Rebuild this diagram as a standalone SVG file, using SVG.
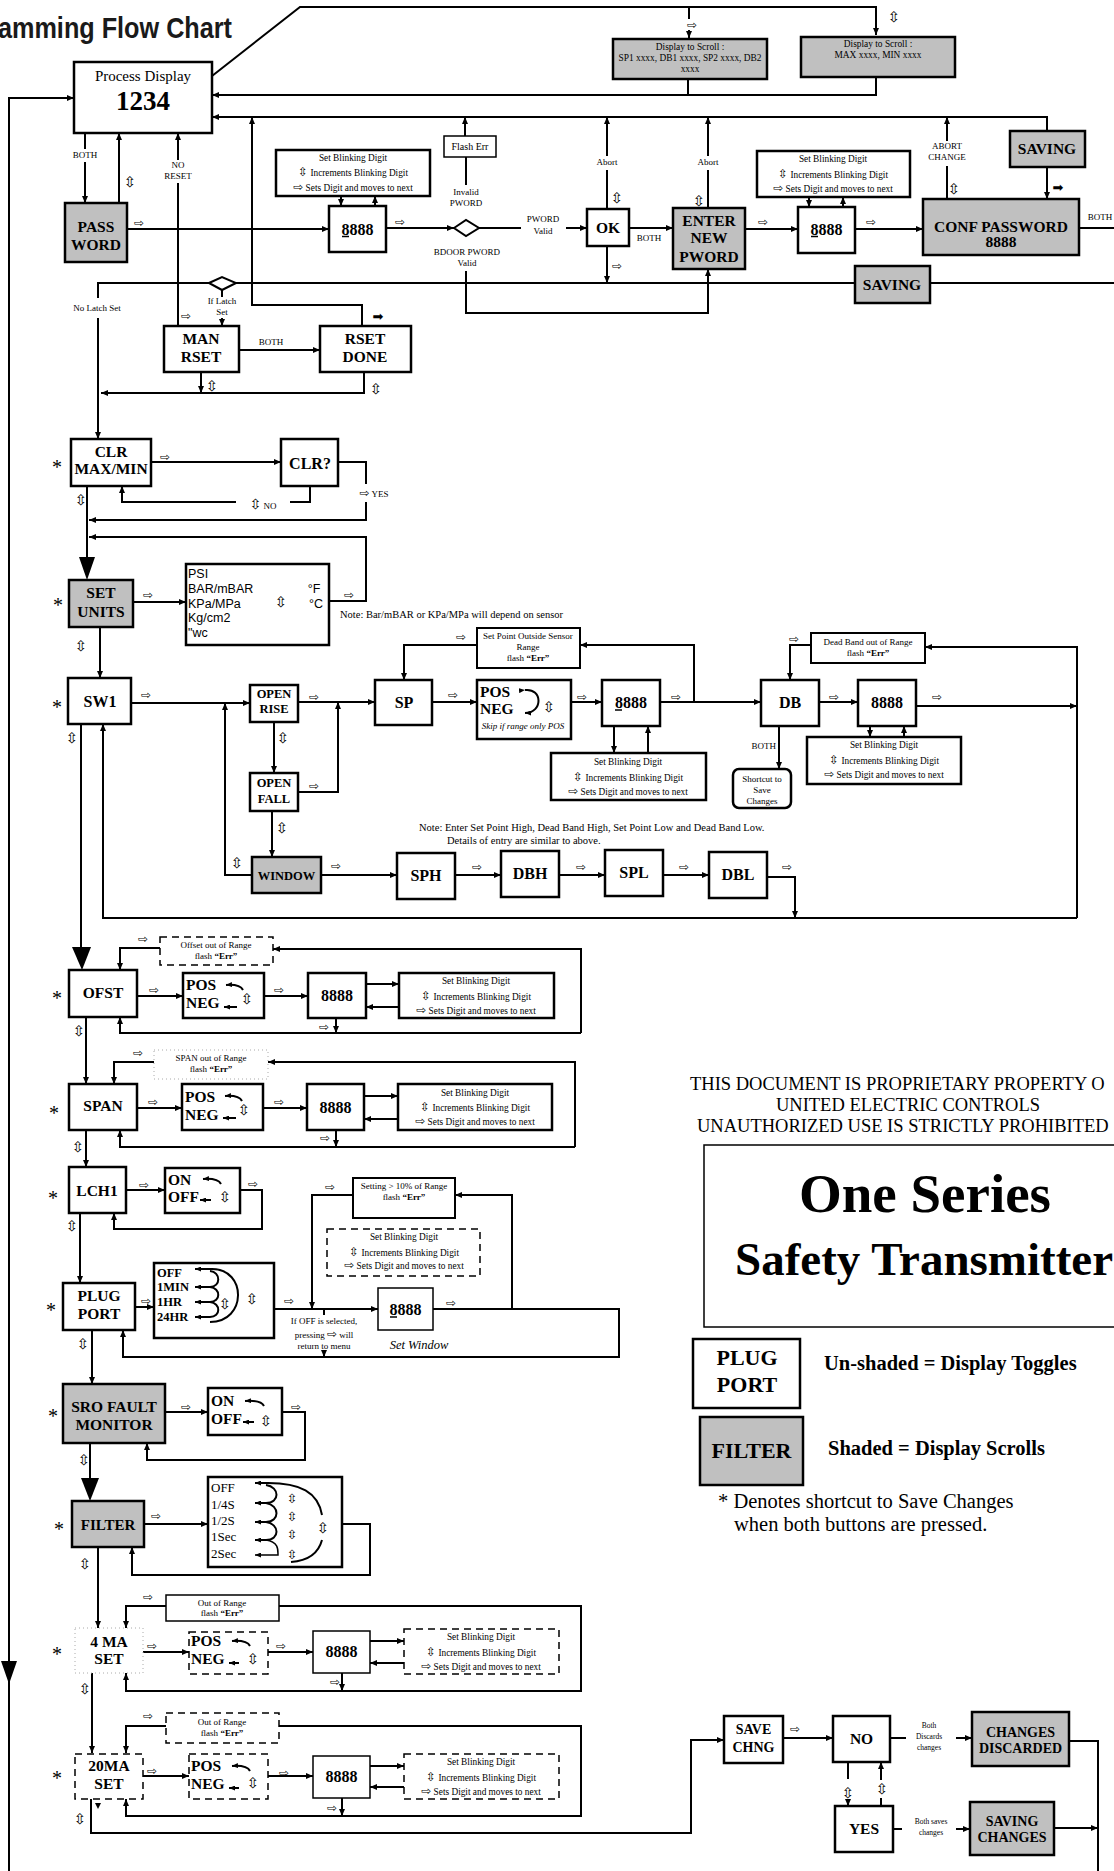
<svg xmlns="http://www.w3.org/2000/svg" width="1114" height="1871" viewBox="0 0 1114 1871">
<defs>
<marker id="a" viewBox="0 0 7 6" refX="7" refY="3" markerWidth="7" markerHeight="6" markerUnits="userSpaceOnUse" orient="auto"><path d="M0,0 L7,3 L0,6 z"/></marker>
<marker id="sa" viewBox="0 0 6 5" refX="6" refY="2.5" markerWidth="6" markerHeight="5" markerUnits="userSpaceOnUse" orient="auto"><path d="M0,0 L6,2.5 L0,5 z"/></marker>
</defs>
<style>
text{font-family:"Liberation Serif","Times New Roman",serif;fill:#000}
.bx{fill:#fff;stroke:#000;stroke-width:2.5}
.gr{fill:#c0c0c0}
.tb{fill:#fff;stroke:#000;stroke-width:1.5}
.ds{fill:#fff;stroke:#000;stroke-width:1.5;stroke-dasharray:7 5}
.dt{fill:#fff;stroke:#aaa;stroke-width:1;stroke-dasharray:1 3}
.c{fill:none;stroke:#000;stroke-width:2}
.A{marker-end:url(#a)}
.sc{fill:none;stroke:#000;stroke-width:2;marker-end:url(#sa)}
.L{font-weight:bold;font-size:15.5px;text-anchor:middle}
.D{font-weight:bold;font-size:16px;text-anchor:middle}
.M{font-weight:bold;font-size:12.5px;text-anchor:middle}
.PN{font-weight:bold;font-size:15.5px}
.s9{font-size:9px;text-anchor:middle}
.sb{font-size:9.3px;text-anchor:middle}
.sym{font-family:"DejaVu Sans",sans-serif;font-size:12px}
.r{font-family:"DejaVu Sans",sans-serif;font-size:12px;text-anchor:middle;transform:translateY(0.5px)}
.u{font-family:"DejaVu Sans",sans-serif;font-size:15px;text-anchor:middle;transform:translateY(1.5px)}
.st{font-size:20px;text-anchor:middle}
.nt{font-size:10.5px}
.ul{stroke:#000;stroke-width:1.5}
</style>
<rect width="1114" height="1871" fill="#fff"/>
<text x="-2" y="38" textLength="234" lengthAdjust="spacingAndGlyphs" style="font-family:'Liberation Sans',Arial,sans-serif;font-weight:bold;font-size:30px;fill:#1a1a1a">amming Flow Chart</text>

<g id="connectors">
<path class="c A" d="M212,76 L300,7 L876,7 L876,35"/>
<path class="c" d="M689,7 V19"/>
<path class="c A" style="stroke-dasharray:3 2" d="M689,30 V38"/>
<path class="c A" d="M876,77 V95 H212"/>
<path class="c" d="M688,79 V95"/>
<path class="c A" d="M1047,131 V117 H212"/>
<path class="c A" d="M362,326 V305 H252 V117"/>
<path class="c A" d="M465,136 V117"/>
<path class="c" d="M607,209 V170"/><path class="c A" d="M607,156 V117"/>
<path class="c" d="M708,208 V170"/><path class="c A" d="M708,156 V117"/>
<path class="c" d="M947,199 V166"/><path class="c A" d="M947,141 V117"/>
<path class="c A" d="M1047,167 V199"/>
<path class="c" d="M1079,228 H1114"/>
<path class="c A" d="M9,1871 V98 H74"/>
<polygon points="1,1661 17,1661 9,1684"/>
<path class="c" d="M85,133 V149"/><path class="c A" d="M85,162 V203"/>
<path class="c A" d="M119,203 V133"/>
<path class="c" d="M178,326 V183"/><path class="c A" d="M178,160 V133"/>
<path class="c A" d="M127,229 H329"/>
<path class="c A" d="M341,196 V206"/><path class="c A" d="M375,206 V196"/>
<path class="c A" d="M386,228 H454"/>
<path class="c" d="M466,157 V185"/>
<path class="c" d="M479,228 H521"/><path class="c A" d="M566,228 H587"/>
<path class="c A" d="M466,271 V313 H708 V269"/>
<path class="c A" d="M629,228 H673"/>
<path class="c A" d="M745,229 H798"/>
<path class="c A" d="M809,197 V207"/><path class="c A" d="M843,207 V197"/>
<path class="c A" d="M855,229 H923"/>
<path class="c A" d="M607,246 V283"/>
<path class="c" d="M98,298 V283 H209"/><path class="c" d="M236,283 H855"/><path class="c" d="M930,283 H1114"/>
<path class="c A" d="M98,318 V439"/>
<path class="c" d="M222,290 V297"/><path class="c A" d="M222,318 V326"/>
<path class="c A" d="M239,350 H320"/>
<path class="c A" d="M201,372 V393"/>
<path class="c A" d="M364,372 V393 H101"/>
<path class="c A" d="M151,462 H281"/>
<path class="c" d="M310,486 V502 H290"/><path class="c A" d="M236,502 H122 V486"/>
<path class="c" d="M338,462 H366 V484"/><path class="c A" d="M366,502 V520 H89"/>
<path class="c" d="M87,486 V558"/>
<polygon points="79,557 95,557 87,580"/>
<path class="c A" d="M329,601 H366 V537 H89"/>
<path class="c A" d="M133,602 H186"/>
<path class="c A" d="M100,627 V678"/>
<path class="c A" d="M131,703 H250"/>
<path class="c A" d="M298,702 H375"/>
<path class="c A" d="M432,702 H477"/>
<path class="c A" d="M477,645 H404 V680"/>
<path class="c A" d="M571,702 H602"/>
<path class="c A" d="M660,702 H761"/>
<path class="c A" d="M694,702 V645 H580"/>
<path class="c A" d="M614,726 V753"/><path class="c A" d="M648,753 V726"/>
<path class="c A" d="M811,645 H790 V680"/>
<path class="c A" d="M819,702 H858"/>
<path class="c A" d="M916,706 H1077"/>
<path class="c A" d="M1077,918 V647 H925"/>
<path class="c A" d="M870,726 V737"/><path class="c A" d="M904,737 V726"/>
<path class="c A" d="M779,726 V769"/>
<path class="c A" d="M274,722 V773"/>
<path class="c A" d="M298,792 H338 V702"/>
<path class="c A" d="M272,811 V857"/>
<path class="c A" d="M252,875 H225 V703"/>
<path class="c A" d="M321,875 H397"/>
<path class="c A" d="M455,875 H501"/><path class="c A" d="M559,875 H605"/><path class="c A" d="M663,875 H709"/>
<path class="c A" d="M767,877 H795 V918"/>
<path class="c A" d="M1077,918 H103 V724"/>
<path class="c" d="M81,724 V948"/>
<polygon points="72,947 91,947 82,970"/>
<path class="c A" d="M160,948 H120 V970"/>
<path class="c A" d="M581,1033 V949 H273"/>
<path class="c A" d="M581,1033 H120 V1017"/>
<path class="c A" d="M137,996 H183"/><path class="c A" d="M264,996 H308"/>
<path class="c A" d="M366,984 H399"/><path class="c A" d="M399,1007 H366"/>
<path class="c A" d="M336,1018 V1033"/>
<path class="c A" d="M86,1017 V1084"/>
<path class="c A" d="M154,1062 H114 V1084"/>
<path class="c A" d="M575,1147 V1062 H268"/>
<path class="c A" d="M575,1147 H120 V1130"/>
<path class="c A" d="M137,1108 H182"/><path class="c A" d="M263,1108 H307"/>
<path class="c A" d="M364,1096 H398"/><path class="c A" d="M398,1119 H364"/>
<path class="c A" d="M336,1130 V1147"/>
<path class="c A" d="M86,1130 V1167"/>
<path class="c A" d="M126,1190 H165"/>
<path class="c A" d="M240,1190 H262 V1229 H114 V1213"/>
<path class="c A" d="M80,1213 V1283"/>
<path class="c A" d="M135,1307 H154"/>
<path class="c A" d="M274,1309 H378"/>
<path class="c A" d="M353,1195 H312 V1309"/>
<path class="c A" d="M433,1309 H619 V1357 H123 V1330"/>
<path class="c A" d="M512,1309 V1195 H455"/>
<path class="c" d="M324,1309 V1315"/><path class="c A" d="M324,1350 V1357"/>
<path class="c A" d="M92,1330 V1384"/>
<path class="c A" d="M165,1412 H208"/>
<path class="c A" d="M282,1412 H305 V1460 H147 V1443"/>
<path class="c" d="M90,1443 V1480"/>
<polygon points="81,1478 99,1478 90,1501"/>
<path class="c A" d="M144,1524 H208"/>
<path class="c A" d="M342,1524 H370 V1575 H132 V1547"/>
<path class="c A" d="M98,1547 V1628"/>
<path class="c A" d="M166,1606 H126 V1628"/>
<path class="c A" d="M279,1606 H581 V1691 H126 V1673"/>
<path class="c A" d="M143,1652 H189"/><path class="c A" d="M268,1652 H313"/>
<path class="c A" d="M370,1641 H404"/><path class="c A" d="M404,1663 H370"/>
<path class="c A" d="M342,1673 V1691"/>
<path class="c A" d="M92,1673 V1753"/>
<path class="c A" d="M166,1726 H126 V1753"/>
<path class="c A" d="M279,1726 H581 V1816 H126 V1799"/>
<path class="c A" d="M143,1776 H189"/><path class="c A" d="M268,1776 H313"/>
<path class="c A" d="M370,1766 H404"/><path class="c A" d="M404,1787 H370"/>
<path class="c A" d="M342,1798 V1816"/>
<path class="c A" d="M91,1799 V1833 H691 V1740 H724"/>
<polygon points="95,1803 101,1803 98,1809"/>
<path class="c A" d="M783,1738 H833"/>
<path class="c" d="M890,1738 H906"/><path class="c A" d="M956,1738 H972"/>
<path class="c" d="M848,1762 V1779"/><path class="c A" d="M848,1800 V1806"/>
<path class="c" d="M881,1806 V1798"/><path class="c A" d="M881,1780 V1762"/>
<path class="c" d="M893,1829 H902"/><path class="c A" d="M956,1829 H970"/>
<path class="c" d="M1069,1741 H1098 V1871"/>
<path class="c A" d="M1054,1828 H1098"/>

<text class="r" x="692" y="28">⇨</text>
<text class="r" x="139" y="226">⇨</text>
<text class="r" x="400" y="225">⇨</text>
<text class="r" x="763" y="225">⇨</text>
<text class="r" x="871" y="225">⇨</text>
<text class="r" x="617" y="269">⇨</text>
<text class="r" x="186" y="319">⇨</text>
<text class="r" x="165" y="460">⇨</text>
<text class="r" x="349" y="598">⇨</text>
<text class="r" x="148" y="598">⇨</text>
<text class="r" x="146" y="698">⇨</text>
<text class="r" x="314" y="700">⇨</text>
<text class="r" x="453" y="698">⇨</text>
<text class="r" x="461" y="640">⇨</text>
<text class="r" x="582" y="700">⇨</text>
<text class="r" x="676" y="700">⇨</text>
<text class="r" x="794" y="642">⇨</text>
<text class="r" x="834" y="700">⇨</text>
<text class="r" x="937" y="700">⇨</text>
<text class="r" x="314" y="789">⇨</text>
<text class="r" x="336" y="869">⇨</text>
<text class="r" x="477" y="870">⇨</text>
<text class="r" x="581" y="870">⇨</text>
<text class="r" x="684" y="870">⇨</text>
<text class="r" x="787" y="870">⇨</text>
<text class="r" x="143" y="942">⇨</text>
<text class="r" x="154" y="993">⇨</text>
<text class="r" x="279" y="993">⇨</text>
<text class="r" x="324" y="1030">⇨</text>
<text class="r" x="138" y="1056">⇨</text>
<text class="r" x="153" y="1105">⇨</text>
<text class="r" x="279" y="1105">⇨</text>
<text class="r" x="325" y="1141">⇨</text>
<text class="r" x="144" y="1188">⇨</text>
<text class="r" x="253" y="1187">⇨</text>
<text class="r" x="146" y="1304">⇨</text>
<text class="r" x="289" y="1304">⇨</text>
<text class="r" x="330" y="1190">⇨</text>
<text class="r" x="451" y="1306">⇨</text>
<text class="r" x="186" y="1410">⇨</text>
<text class="r" x="296" y="1410">⇨</text>
<text class="r" x="156" y="1519">⇨</text>
<text class="r" x="148" y="1600">⇨</text>
<text class="r" x="152" y="1649">⇨</text>
<text class="r" x="281" y="1649">⇨</text>
<text class="r" x="335" y="1685">⇨</text>
<text class="r" x="148" y="1719">⇨</text>
<text class="r" x="152" y="1774">⇨</text>
<text class="r" x="284" y="1776">⇨</text>
<text class="r" x="332" y="1811">⇨</text>
<text class="r" x="795" y="1732">⇨</text>
<text class="r" style="font-size:13px" x="1058" y="191">➡</text>
<text class="r" style="font-size:13px" x="378" y="320">➡</text>

<text class="u" x="894" y="20">⇳</text>
<text class="u" x="130" y="185">⇳</text>
<text class="u" x="617" y="201">⇳</text>
<text class="u" x="699" y="204">⇳</text>
<text class="u" x="954" y="192">⇳</text>
<text class="u" x="212" y="389">⇳</text>
<text class="u" x="376" y="392">⇳</text>
<text class="u" x="81" y="503">⇳</text>
<text class="u" x="81" y="649">⇳</text>
<text class="u" x="72" y="741">⇳</text>
<text class="u" x="283" y="741">⇳</text>
<text class="u" x="282" y="831">⇳</text>
<text class="u" x="237" y="866">⇳</text>
<text class="u" x="79" y="1034">⇳</text>
<text class="u" x="78" y="1150">⇳</text>
<text class="u" x="72" y="1229">⇳</text>
<text class="u" x="83" y="1347">⇳</text>
<text class="u" x="84" y="1463">⇳</text>
<text class="u" x="85" y="1567">⇳</text>
<text class="u" x="85" y="1692">⇳</text>
<text class="u" x="80" y="1822">⇳</text>
<text class="u" x="848" y="1796">⇳</text>
<text class="u" x="882" y="1792">⇳</text>

<text class="s9" x="85" y="158">BOTH</text>
<text class="s9" x="178" y="168">NO</text>
<text class="s9" x="178" y="179">RESET</text>
<text class="s9" x="466" y="195">Invalid</text>
<text class="s9" x="466" y="206">PWORD</text>
<text class="s9" x="467" y="255">BDOOR PWORD</text>
<text class="s9" x="467" y="266">Valid</text>
<text class="s9" x="543" y="222">PWORD</text>
<text class="s9" x="543" y="234">Valid</text>
<text class="s9" x="607" y="165">Abort</text>
<text class="s9" x="708" y="165">Abort</text>
<text class="s9" x="947" y="149">ABORT</text>
<text class="s9" x="947" y="160">CHANGE</text>
<text class="s9" x="649" y="241">BOTH</text>
<text class="s9" x="1100" y="220">BOTH</text>
<text class="s9" x="97" y="311">No Latch Set</text>
<text class="s9" x="222" y="304">If Latch</text>
<text class="s9" x="222" y="315">Set</text>
<text class="s9" x="271" y="345">BOTH</text>
<text class="s9" x="263" y="509"><tspan class="sym" style="font-size:14px">⇳</tspan> NO</text>
<text class="s9" x="374" y="497"><tspan class="sym">⇨</tspan> YES</text>
<text class="nt" x="340" y="618">Note:  Bar/mBAR or KPa/MPa will depend on sensor</text>
<text class="s9" x="776" y="749" style="text-anchor:end">BOTH</text>
<text class="nt" x="419" y="831">Note:  Enter Set Point High, Dead Band High, Set Point Low and Dead Band Low.</text>
<text class="nt" x="447" y="844">Details of entry are similar to above.</text>
<text class="s9" x="324" y="1324">If OFF is selected,</text>
<text class="s9" x="324" y="1338">pressing <tspan class="sym">⇨</tspan>  will</text>
<text class="s9" x="324" y="1349">return to menu</text>
<text x="419" y="1349" style="font-style:italic;font-size:12.5px;text-anchor:middle">Set Window</text>
<text class="s9" style="font-size:7.5px" x="929" y="1728">Both</text>
<text class="s9" style="font-size:7.5px" x="929" y="1739">Discards</text>
<text class="s9" style="font-size:7.5px" x="929" y="1750">changes</text>
<text class="s9" style="font-size:7.5px" x="931" y="1824">Both  saves</text>
<text class="s9" style="font-size:7.5px" x="931" y="1835">changes</text>

<text class="st" x="57" y="474">*</text>
<text class="st" x="58" y="612">*</text>
<text class="st" x="57" y="714">*</text>
<text class="st" x="57" y="1005">*</text>
<text class="st" x="54" y="1120">*</text>
<text class="st" x="53" y="1205">*</text>
<text class="st" x="51" y="1317">*</text>
<text class="st" x="53" y="1423">*</text>
<text class="st" x="59" y="1536">*</text>
<text class="st" x="57" y="1661">*</text>
<text class="st" x="57" y="1785">*</text>
</g>

<g id="n-process"><rect class="bx" x="74" y="62" width="138" height="71"/><text x="143" y="81" style="font-size:15px;text-anchor:middle">Process Display</text><text x="143" y="110" style="font-size:27px;font-weight:bold;text-anchor:middle">1234</text></g>
<g id="n-scroll1"><rect class="bx gr" x="613" y="39" width="154" height="40"/><text class="s9" style="font-size:9.4px" x="690" y="50">Display to Scroll :</text><text class="s9" style="font-size:9.4px" x="690" y="61">SP1 xxxx, DB1 xxxx, SP2 xxxx, DB2</text><text class="s9" style="font-size:9.4px" x="690" y="72">xxxx</text></g>
<g id="n-scroll2"><rect class="bx gr" x="801" y="37" width="154" height="40"/><text class="s9" style="font-size:9.4px" x="878" y="47">Display to Scroll :</text><text class="s9" style="font-size:9.4px" x="878" y="58">MAX xxxx, MIN xxxx</text></g>
<g id="n-password"><rect class="bx gr" x="65" y="203" width="62" height="59"/><text class="L" x="96" y="232">PASS</text><text class="L" x="96" y="250">WORD</text></g>
<g id="n-sbd1"><rect class="bx" x="276" y="150" width="154" height="46"/><text class="sb" x="353" y="161">Set Blinking Digit</text><text class="sb" x="353" y="176"><tspan class="sym">⇳</tspan> Increments Blinking Digit</text><text class="sb" x="353" y="191"><tspan class="sym">⇨</tspan> Sets Digit and moves to next</text></g>
<g id="n-8888a"><rect class="bx" x="329" y="206" width="57" height="46"/><text class="D" x="357.5" y="235">8888</text><path class="ul" d="M342,236.5 H349"/></g>
<g id="n-flasherr"><rect class="tb" x="444" y="136" width="52" height="21"/><text x="470" y="150" style="font-size:10px;text-anchor:middle">Flash Err</text></g>
<g id="n-decision1"><polygon points="454,228 466,220 479,228 466,236" fill="#fff" stroke="#000" stroke-width="2"/></g>
<g id="n-ok"><rect class="bx" x="587" y="209" width="42" height="37"/><text class="L" x="608" y="233">OK</text></g>
<g id="n-enter"><rect class="bx gr" x="673" y="208" width="72" height="61"/><text class="L" x="709" y="226">ENTER</text><text class="L" x="709" y="243">NEW</text><text class="L" x="709" y="262">PWORD</text></g>
<g id="n-sbd2"><rect class="bx" x="757" y="151" width="153" height="46"/><text class="sb" x="833" y="162">Set Blinking Digit</text><text class="sb" x="833" y="178"><tspan class="sym">⇳</tspan> Increments Blinking Digit</text><text class="sb" x="833" y="192"><tspan class="sym">⇨</tspan> Sets Digit and moves to next</text></g>
<g id="n-8888b"><rect class="bx" x="798" y="207" width="57" height="46"/><text class="D" x="826.5" y="235">8888</text><path class="ul" d="M811,236.5 H818"/></g>
<g id="n-conf"><rect class="bx gr" x="923" y="199" width="156" height="56"/><text class="L" x="1001" y="232">CONF PASSWORD</text><text class="L" x="1001" y="247">8888</text></g>
<g id="n-saving1"><rect class="bx gr" x="1010" y="131" width="75" height="36"/><text class="L" x="1047" y="154">SAVING</text></g>
<g id="n-saving2"><rect class="bx gr" x="855" y="266" width="75" height="37"/><text class="L" x="892" y="290">SAVING</text></g>
<g id="n-decision2"><polygon points="209,283 222,277 236,283 222,290" fill="#fff" stroke="#000" stroke-width="2"/></g>
<g id="n-manrset"><rect class="bx" x="164" y="326" width="75" height="46"/><text class="L" x="201" y="344">MAN</text><text class="L" x="201" y="362">RSET</text></g>
<g id="n-rsetdone"><rect class="bx" x="320" y="326" width="91" height="46"/><text class="L" x="365" y="344">RSET</text><text class="L" x="365" y="362">DONE</text></g>
<g id="n-clr"><rect class="bx" x="71" y="439" width="80" height="47"/><text class="L" x="111" y="457">CLR</text><text class="L" x="111" y="474">MAX/MIN</text></g>
<g id="n-clrq"><rect class="bx" x="281" y="439" width="57" height="47"/><text class="L" style="font-size:16px" x="310" y="469">CLR?</text></g>
<g id="n-setunits"><rect class="bx gr" x="69" y="580" width="64" height="47"/><text class="L" x="101" y="598">SET</text><text class="L" x="101" y="617">UNITS</text></g>
<g id="n-units"><rect class="bx" x="186" y="564" width="143" height="81"/>
<text x="188" y="578" style="font-family:'Liberation Sans',Arial,sans-serif;font-size:12.5px">PSI</text>
<text x="188" y="593" style="font-family:'Liberation Sans',Arial,sans-serif;font-size:12.5px">BAR/mBAR</text>
<text x="188" y="608" style="font-family:'Liberation Sans',Arial,sans-serif;font-size:12.5px">KPa/MPa</text>
<text x="188" y="622" style="font-family:'Liberation Sans',Arial,sans-serif;font-size:12.5px">Kg/cm2</text>
<text x="188" y="637" style="font-family:'Liberation Sans',Arial,sans-serif;font-size:12.5px">"wc</text>
<text x="314" y="593" style="font-family:'Liberation Sans',Arial,sans-serif;font-size:12.5px;text-anchor:middle">°F</text>
<text x="316" y="608" style="font-family:'Liberation Sans',Arial,sans-serif;font-size:12.5px;text-anchor:middle">°C</text>
<text class="u" x="281" y="605">⇳</text></g>
<g id="n-sw1"><rect class="bx" x="68" y="678" width="63" height="46"/><text class="L" style="font-size:16px" x="100" y="707">SW1</text></g>
<g id="n-openrise"><rect class="bx" x="250" y="685" width="48" height="37"/><text class="M" x="274" y="698">OPEN</text><text class="M" x="274" y="713">RISE</text></g>
<g id="n-sposr"><rect class="bx" style="stroke-width:2" x="477" y="628" width="103" height="40"/><text class="s9" x="528" y="639">Set Point Outside Sensor</text><text class="s9" x="528" y="650">Range</text><text class="s9" x="528" y="661">flash <tspan font-weight="bold">“Err”</tspan></text></g>
<g id="n-sp"><rect class="bx" x="375" y="680" width="57" height="45"/><text class="D" x="404" y="708">SP</text></g>
<g id="n-posneg1"><rect class="bx" x="477" y="680" width="94" height="59"/><text class="PN" x="480" y="697">POS</text><text class="PN" x="480" y="714">NEG</text><path class="sc" d="M525,690 C543,688 543,713 525,713" marker-start="url(#sa)" style="marker-start:url(#sa)"/><text class="u" x="549" y="710">⇳</text><text x="523" y="729" style="font-style:italic;font-size:9px;text-anchor:middle">Skip if range only POS</text></g>
<g id="n-8888c"><rect class="bx" x="602" y="680" width="58" height="46"/><text class="D" x="631" y="708">8888</text><path class="ul" d="M615,710 H622"/></g>
<g id="n-sbd3"><rect class="bx" x="551" y="753" width="155" height="47"/><text class="sb" x="628" y="765">Set Blinking Digit</text><text class="sb" x="628" y="781"><tspan class="sym">⇳</tspan> Increments Blinking Digit</text><text class="sb" x="628" y="795"><tspan class="sym">⇨</tspan> Sets Digit and moves to next</text></g>
<g id="n-db"><rect class="bx" x="761" y="680" width="58" height="46"/><text class="D" x="790" y="708">DB</text></g>
<g id="n-deadband"><rect class="bx" style="stroke-width:2" x="811" y="633" width="114" height="30"/><text class="s9" x="868" y="645">Dead Band out of Range</text><text class="s9" x="868" y="656">flash <tspan font-weight="bold">“Err”</tspan></text></g>
<g id="n-8888d"><rect class="bx" x="858" y="680" width="58" height="46"/><text class="D" x="887" y="708">8888</text></g>
<g id="n-sbd4"><rect class="bx" x="807" y="737" width="154" height="47"/><text class="sb" x="884" y="748">Set Blinking Digit</text><text class="sb" x="884" y="764"><tspan class="sym">⇳</tspan> Increments Blinking Digit</text><text class="sb" x="884" y="778"><tspan class="sym">⇨</tspan> Sets Digit and moves to next</text></g>
<g id="n-shortcut"><rect class="bx" x="733" y="769" width="58" height="39" rx="6"/><text class="s9" x="762" y="782">Shortcut to</text><text class="s9" x="762" y="793">Save</text><text class="s9" x="762" y="804">Changes</text></g>
<g id="n-openfall"><rect class="bx" x="250" y="773" width="48" height="38"/><text class="M" x="274" y="787">OPEN</text><text class="M" x="274" y="803">FALL</text></g>
<g id="n-window"><rect class="bx gr" x="252" y="857" width="69" height="36"/><text class="M" x="286.5" y="880">WINDOW</text></g>
<g id="n-sph"><rect class="bx" x="397" y="853" width="58" height="46"/><text class="D" x="426" y="881">SPH</text></g>
<g id="n-dbh"><rect class="bx" x="501" y="851" width="58" height="46"/><text class="D" x="530" y="879">DBH</text></g>
<g id="n-spl"><rect class="bx" x="605" y="850" width="58" height="46"/><text class="D" x="634" y="878">SPL</text></g>
<g id="n-dbl"><rect class="bx" x="709" y="852" width="58" height="46"/><text class="D" x="738" y="880">DBL</text></g>
<g id="n-ofstrange"><rect class="ds" x="160" y="937" width="113" height="28"/><text class="s9" x="216" y="948">Offset out of Range</text><text class="s9" x="216" y="959">flash <tspan font-weight="bold">“Err”</tspan></text></g>
<g id="n-ofst"><rect class="bx" x="69" y="970" width="68" height="47"/><text class="L" x="103" y="998">OFST</text></g>
<g id="n-posneg2"><rect class="bx" x="183" y="973" width="81" height="45"/><text class="PN" x="186" y="990">POS</text><text class="PN" x="186" y="1008">NEG</text><path class="sc" d="M243,990 Q240,984 226,985"/><path class="sc" d="M237,1007 H224"/><text class="u" x="247" y="1002">⇳</text></g>
<g id="n-8888e"><rect class="bx" x="308" y="973" width="58" height="45"/><text class="D" x="337" y="1001">8888</text></g>
<g id="n-sbd5"><rect class="bx" x="399" y="973" width="155" height="45"/><text class="sb" x="476" y="984">Set Blinking Digit</text><text class="sb" x="476" y="1000"><tspan class="sym">⇳</tspan> Increments Blinking Digit</text><text class="sb" x="476" y="1014"><tspan class="sym">⇨</tspan> Sets Digit and moves to next</text></g>
<g id="n-spanrange"><rect class="dt" x="154" y="1050" width="114" height="29"/><text class="s9" x="211" y="1061">SPAN out of Range</text><text class="s9" x="211" y="1072">flash <tspan font-weight="bold">“Err”</tspan></text></g>
<g id="n-span"><rect class="bx" x="69" y="1084" width="68" height="46"/><text class="L" x="103" y="1111">SPAN</text></g>
<g id="n-posneg3"><rect class="bx" x="182" y="1084" width="81" height="46"/><text class="PN" x="185" y="1102">POS</text><text class="PN" x="185" y="1120">NEG</text><path class="sc" d="M242,1101 Q239,1095 225,1096"/><path class="sc" d="M236,1118 H223"/><text class="u" x="244" y="1113">⇳</text></g>
<g id="n-8888f"><rect class="bx" x="307" y="1084" width="57" height="46"/><text class="D" x="335.5" y="1113">8888</text></g>
<g id="n-sbd6"><rect class="bx" x="398" y="1084" width="154" height="46"/><text class="sb" x="475" y="1096">Set Blinking Digit</text><text class="sb" x="475" y="1111"><tspan class="sym">⇳</tspan> Increments Blinking Digit</text><text class="sb" x="475" y="1125"><tspan class="sym">⇨</tspan> Sets Digit and moves to next</text></g>
<g id="n-lch1"><rect class="bx" x="69" y="1167" width="57" height="46"/><text class="L" x="97" y="1196">LCH1</text></g>
<g id="n-onoff1"><rect class="bx" x="165" y="1168" width="75" height="45"/><text class="PN" x="168" y="1185">ON</text><text class="PN" x="168" y="1202">OFF</text><path class="sc" d="M221,1184 Q218,1178 203,1179"/><path class="sc" d="M211,1200 H200"/><text class="u" x="225" y="1200">⇳</text></g>
<g id="n-plug"><rect class="bx" x="63" y="1283" width="72" height="47"/><text class="L" x="99" y="1301">PLUG</text><text class="L" x="99" y="1319">PORT</text></g>
<g id="n-plugopts"><rect class="bx" x="154" y="1263" width="120" height="75"/><text x="157" y="1277" style="font-weight:bold;font-size:12.5px">OFF</text><text x="157" y="1291" style="font-weight:bold;font-size:12.5px">1MIN</text><text x="157" y="1306" style="font-weight:bold;font-size:12.5px">1HR</text><text x="157" y="1321" style="font-weight:bold;font-size:12.5px">24HR</text>
<path class="sc" d="M210,1322 C247,1322 247,1269 212,1269 H195"/>
<path class="sc" d="M210,1271 C221,1272 221,1287 210,1287 H195"/>
<path class="sc" d="M210,1287 C221,1288 221,1302 210,1302 H195"/>
<path class="sc" d="M210,1302 C221,1303 221,1317 210,1317 H195"/>
<text class="u" x="225" y="1307">⇳</text><text class="u" x="252" y="1302">⇳</text></g>
<g id="n-setting"><rect class="bx" style="stroke-width:2" x="353" y="1178" width="102" height="40"/><text class="s9" x="404" y="1189">Setting &gt; 10% of  Range</text><text class="s9" x="404" y="1200">flash <tspan font-weight="bold">“Err”</tspan></text></g>
<g id="n-sbd7"><rect class="ds" x="327" y="1229" width="153" height="47"/><text class="sb" x="404" y="1240">Set Blinking Digit</text><text class="sb" x="404" y="1256"><tspan class="sym">⇳</tspan> Increments Blinking Digit</text><text class="sb" x="404" y="1269"><tspan class="sym">⇨</tspan> Sets Digit and moves to next</text></g>
<g id="n-8888g"><rect class="tb" x="378" y="1288" width="55" height="42"/><text class="D" x="405.5" y="1315">8888</text><path class="ul" d="M390,1317 H397"/></g>
<g id="n-sro"><rect class="bx gr" x="63" y="1384" width="102" height="59"/><text class="L" x="114" y="1412">SRO FAULT</text><text class="L" x="114" y="1430">MONITOR</text></g>
<g id="n-onoff2"><rect class="bx" x="208" y="1388" width="74" height="47"/><text class="PN" x="211" y="1406">ON</text><text class="PN" x="211" y="1424">OFF</text><path class="sc" d="M264,1406 Q261,1400 245,1401"/><path class="sc" d="M254,1422 H243"/><text class="u" x="266" y="1424">⇳</text></g>
<g id="n-filter"><rect class="bx gr" x="72" y="1501" width="72" height="46"/><text class="L" style="font-size:15px" x="108" y="1530">FILTER</text></g>
<g id="n-filteropts"><rect class="bx" x="208" y="1477" width="134" height="90"/><text x="211" y="1492" style="font-size:13px">OFF</text><text x="211" y="1509" style="font-size:13px">1/4S</text><text x="211" y="1525" style="font-size:13px">1/2S</text><text x="211" y="1541" style="font-size:13px">1Sec</text><text x="211" y="1558" style="font-size:13px">2Sec</text>
<path class="sc" d="M322,1515 C318,1492 300,1483 268,1483 H255"/>
<path class="c" d="M322,1540 C318,1555 305,1561 291,1562"/>
<path class="sc" d="M266,1485 C280,1487 280,1503 266,1503 H255"/>
<path class="sc" d="M266,1503 C280,1505 280,1522 266,1522 H255"/>
<path class="sc" d="M266,1522 C280,1524 280,1540 266,1540 H255"/>
<path class="sc" style="stroke-width:1.5" d="M266,1540 C279,1542 278,1550 278,1555 H255"/>
<text class="u" style="font-size:13px" x="292" y="1501">⇳</text><text class="u" style="font-size:13px" x="292" y="1519">⇳</text><text class="u" style="font-size:13px" x="292" y="1537">⇳</text><text class="u" style="font-size:13px" x="292" y="1557">⇳</text><text class="u" x="323" y="1531">⇳</text></g>
<g id="n-outrange1"><rect class="tb" x="166" y="1595" width="113" height="26"/><text class="s9" x="222" y="1606">Out of Range</text><text class="s9" x="222" y="1616">flash <tspan font-weight="bold">“Err”</tspan></text></g>
<g id="n-4ma"><rect class="dt" x="75" y="1628" width="68" height="45"/><text class="L" x="109" y="1647">4 MA</text><text class="L" x="109" y="1664">SET</text></g>
<g id="n-posneg4"><rect class="ds" x="189" y="1632" width="79" height="42"/><text class="PN" x="191" y="1646">POS</text><text class="PN" x="191" y="1664">NEG</text><path class="sc" d="M250,1646 Q247,1640 232,1641"/><path class="sc" d="M239,1663 H229"/><text class="u" x="253" y="1662">⇳</text></g>
<g id="n-8888h"><rect class="tb" x="313" y="1631" width="57" height="42"/><text class="D" x="341.5" y="1657">8888</text></g>
<g id="n-sbd8"><rect class="ds" x="404" y="1629" width="155" height="45"/><text class="sb" x="481" y="1640">Set Blinking Digit</text><text class="sb" x="481" y="1656"><tspan class="sym">⇳</tspan> Increments Blinking Digit</text><text class="sb" x="481" y="1670"><tspan class="sym">⇨</tspan> Sets Digit and moves to next</text></g>
<g id="n-outrange2"><rect class="ds" x="166" y="1713" width="113" height="30"/><text class="s9" x="222" y="1725">Out of Range</text><text class="s9" x="222" y="1736">flash <tspan font-weight="bold">“Err”</tspan></text></g>
<g id="n-20ma"><rect class="ds" x="75" y="1754" width="68" height="45"/><text class="L" x="109" y="1771">20MA</text><text class="L" x="109" y="1789">SET</text></g>
<g id="n-posneg5"><rect class="ds" x="189" y="1754" width="79" height="45"/><text class="PN" x="191" y="1771">POS</text><text class="PN" x="191" y="1789">NEG</text><path class="sc" d="M250,1771 Q247,1765 232,1766"/><path class="sc" d="M239,1788 H229"/><text class="u" x="253" y="1786">⇳</text></g>
<g id="n-8888i"><rect class="tb" x="313" y="1756" width="57" height="42"/><text class="D" x="341.5" y="1782">8888</text></g>
<g id="n-sbd9"><rect class="ds" x="404" y="1754" width="155" height="45"/><text class="sb" x="481" y="1765">Set Blinking Digit</text><text class="sb" x="481" y="1781"><tspan class="sym">⇳</tspan> Increments Blinking Digit</text><text class="sb" x="481" y="1795"><tspan class="sym">⇨</tspan> Sets Digit and moves to next</text></g>
<g id="n-savechng"><rect class="bx" x="724" y="1716" width="59" height="47"/><text class="L" style="font-size:14px" x="753.5" y="1734">SAVE</text><text class="L" style="font-size:14px" x="753.5" y="1752">CHNG</text></g>
<g id="n-no"><rect class="bx" x="833" y="1716" width="57" height="46"/><text class="L" x="861.5" y="1744">NO</text></g>
<g id="n-yes"><rect class="bx" x="835" y="1806" width="58" height="46"/><text class="L" x="864" y="1834">YES</text></g>
<g id="n-discarded"><rect class="bx gr" x="972" y="1712" width="97" height="54"/><text class="L" style="font-size:14px" x="1020.5" y="1737">CHANGES</text><text class="L" style="font-size:14px" x="1020.5" y="1753">DISCARDED</text></g>
<g id="n-savingchanges"><rect class="bx gr" x="970" y="1802" width="84" height="53"/><text class="L" style="font-size:14px" x="1012" y="1826">SAVING</text><text class="L" style="font-size:14px" x="1012" y="1842">CHANGES</text></g>

<g id="legend">
<text x="690" y="1090" style="font-size:18.5px">THIS DOCUMENT IS PROPRIETARY PROPERTY O</text>
<text x="908" y="1111" style="font-size:18.5px;text-anchor:middle">UNITED ELECTRIC CONTROLS</text>
<text x="697" y="1132" style="font-size:18.5px">UNAUTHORIZED USE IS STRICTLY PROHIBITED</text>
<rect x="704" y="1145" width="430" height="182" fill="none" stroke="#000" stroke-width="1.5"/>
<text x="925" y="1212" style="font-size:55px;font-weight:bold;text-anchor:middle">One Series</text>
<text x="735" y="1275" style="font-size:47px;font-weight:bold">Safety Transmitter</text>
<rect class="bx" x="693" y="1339" width="107" height="69"/>
<text x="747" y="1365" style="font-size:22px;font-weight:bold;text-anchor:middle">PLUG</text>
<text x="747" y="1392" style="font-size:22px;font-weight:bold;text-anchor:middle">PORT</text>
<text x="824" y="1370" style="font-size:20.5px;font-weight:bold">Un-shaded = Display Toggles</text>
<rect class="bx gr" x="700" y="1417" width="103" height="68"/>
<text x="751.5" y="1458" style="font-size:22px;font-weight:bold;text-anchor:middle">FILTER</text>
<text x="828" y="1455" style="font-size:20.5px;font-weight:bold">Shaded = Display Scrolls</text>
<text x="718" y="1508" style="font-size:20.5px">* Denotes shortcut to Save Changes</text>
<text x="734" y="1531" style="font-size:20.5px">when both buttons are pressed.</text>
</g>
</svg>
